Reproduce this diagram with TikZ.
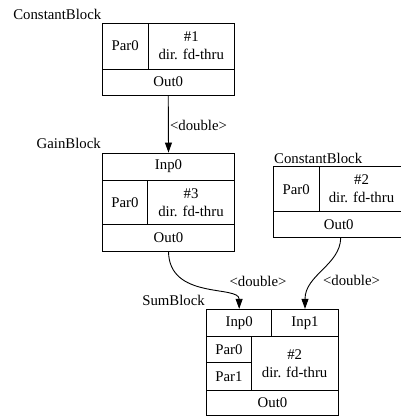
\documentclass[tikz,border=0pt]{standalone}
\usepackage{fontspec}
\setmainfont{Liberation Serif}
\usetikzlibrary{arrows.meta}
\begin{document}
\begin{tikzpicture}[x=1pt,y=-1pt,
  every node/.style={font=\fontsize{14.8}{18}\selectfont},
  cell/.style={draw=black,line width=0.9pt,rectangle,inner sep=0pt,align=center},
  blocklabel/.style={inner sep=0pt},
  edgelabel/.style={inner sep=0pt},
  conn/.style={draw=black,line width=0.9pt,-{Triangle[length=10pt,width=7pt]}}]
\useasboundingbox (0,0) rectangle (401,418);
\clip (0,0) rectangle (401,418);
% ConstantBlock #1
\node[cell,minimum width=46pt,minimum height=46pt] (b1par) at (125.25,46) {Par0};
\node[cell,minimum width=86.5pt,minimum height=46pt] (b1info) at (191.25,46) {\#1\\dir. fd-thru};
\node[cell,minimum width=132.5pt,minimum height=26pt] (b1out) at (168.25,82) {Out0};
\node[blocklabel,anchor=east] (b1lab) at (101.5,14.5) {ConstantBlock};
% GainBlock
\node[cell,minimum width=132pt,minimum height=27pt] (gin) at (168.5,166.5) {Inp0};
\node[cell,minimum width=45pt,minimum height=44.5pt] (gpar) at (125,202.25) {Par0};
\node[cell,minimum width=87pt,minimum height=44.5pt] (ginfo) at (191,202.25) {\#3\\dir. fd-thru};
\node[cell,minimum width=132pt,minimum height=26.5pt] (gout) at (168.5,237.75) {Out0};
\node[blocklabel,anchor=east] (glab) at (101,143.3) {GainBlock};
% ConstantBlock #2
\node[cell,minimum width=45.5pt,minimum height=45pt] (c2par) at (296.25,189.2) {Par0};
\node[cell,minimum width=85pt,minimum height=45pt] (c2info) at (361.5,189.2) {\#2\\dir. fd-thru};
\node[cell,minimum width=130.5pt,minimum height=26pt] (c2out) at (338.75,224.7) {Out0};
\node[blocklabel,anchor=west] (c2lab) at (274,158.3) {ConstantBlock};
% SumBlock
\node[cell,minimum width=65pt,minimum height=27.4pt] (sin0) at (239.2,323) {Inp0};
\node[cell,minimum width=66.6pt,minimum height=27.4pt] (sin1) at (305,323) {Inp1};
\node[cell,minimum width=44.3pt,minimum height=26pt] (spar0) at (228.85,349.7) {Par0};
\node[cell,minimum width=44.3pt,minimum height=27.3pt] (spar1) at (228.85,376.35) {Par1};
\node[cell,minimum width=87.3pt,minimum height=53.3pt] (sinfo) at (294.65,363.35) {\#2\\dir. fd-thru};
\node[cell,minimum width=131.6pt,minimum height=25.7pt] (sout) at (272.5,402.85) {Out0};
\node[blocklabel,anchor=east] (slab) at (205,300) {SumBlock};
% connectors
\draw[conn] (b1out.south) -- (gin.north);
\node[edgelabel] (e1lab) at (198.5,125) {<double>};
\draw[conn] (gout.south) .. controls (169,300) and (239,285) .. (sin0.north);
\node[edgelabel] (e2lab) at (258,281.5) {<double>};
\draw[conn] (c2out.south -| 340.7,0) .. controls (340,265) and (305,275) .. (sin1.north);
\node[edgelabel] (e3lab) at (351.5,280) {<double>};
\end{tikzpicture}
\end{document}
